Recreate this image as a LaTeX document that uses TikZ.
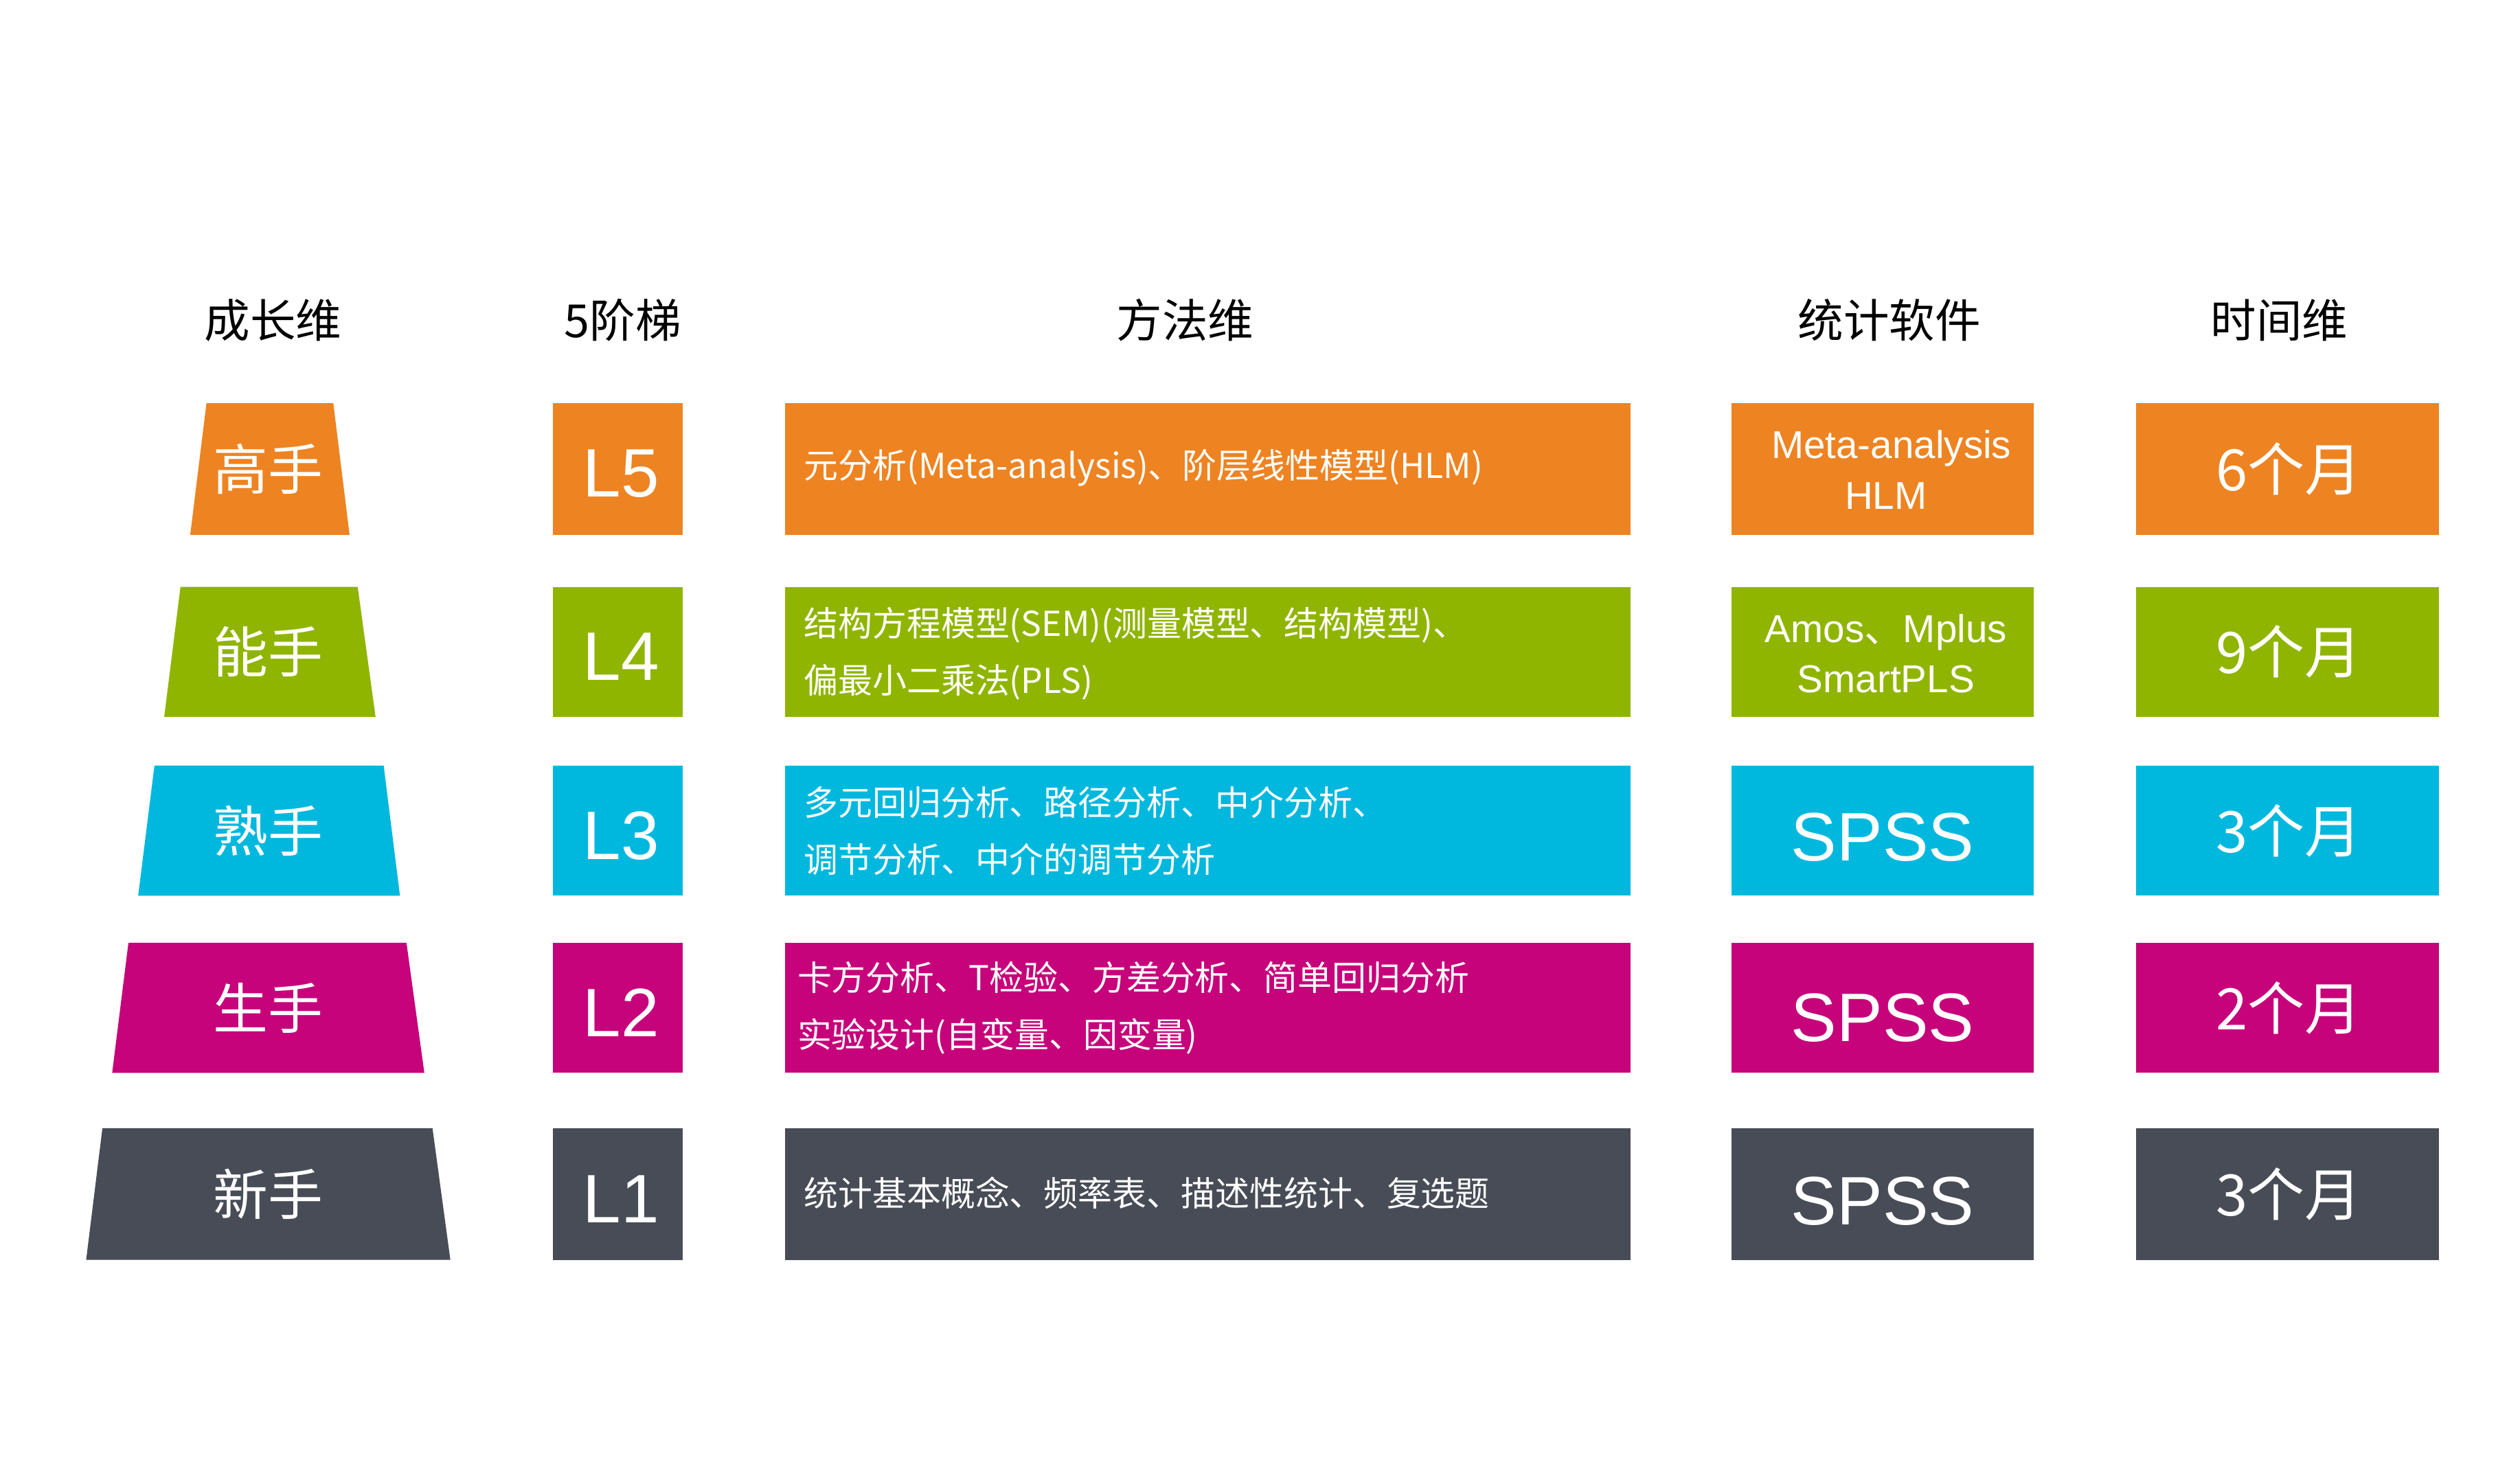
\documentclass[tikz,border=0pt]{standalone}
\usepackage{fontspec}
\newfontfamily\cjk{Noto Sans CJK SC}
\newfontfamily\lat{Liberation Sans}
\definecolor{cO}{HTML}{EE8322}
\definecolor{cG}{HTML}{8FB500}
\definecolor{cC}{HTML}{00B8DE}
\definecolor{cM}{HTML}{C6037A}
\definecolor{cD}{HTML}{474C56}
\begin{document}
\begin{tikzpicture}[x=0.05cm,y=-0.05cm,
  hd/.style={font=\cjk\fontsize{40}{44}\selectfont,text=black},
  lv/.style={font=\lat\fontsize{60}{60}\selectfont,text=white},
  tr/.style={font=\cjk\fontsize{48}{50}\selectfont,text=white},
  me/.style={font=\cjk\fontsize{30}{50}\selectfont,text=white,align=left,anchor=west},
  sw/.style={font=\lat\fontsize{34}{44}\selectfont,text=white,align=center},
  sb/.style={font=\lat\fontsize{60}{60}\selectfont,text=white},
  tm/.style={font=\cjk\fontsize{50}{50}\selectfont,text=white}]
\useasboundingbox (0,0) rectangle (1550,899);
\node[hd] (h1) at (168,197) {成长维};
\node[hd] (h2) at (383,197) {5阶梯};
\node[hd] (h3) at (729,197) {方法维};
\node[hd] (h4) at (1162,197) {统计软件};
\node[hd] (h5) at (1402,197) {时间维};
% rows
\foreach \c/\ya/\yb/\ta/\tb/\ba/\bb/\nm/\lv/\tt in {
 cO/248/329/127/205/117/215/高手/L5/6个月,
 cG/361/441/111/220/101/231/能手/L4/9个月,
 cC/471/551/95/236/85/246/熟手/L3/3个月,
 cM/580/660/79/250/69/261/生手/L2/2个月,
 cD/694/775/63/266/53/277/新手/L1/3个月}{
 \fill[\c] (\ta,\ya) -- (\tb,\ya) -- (\bb,\yb) -- (\ba,\yb) -- cycle;
 \node[tr] at (165,{(\ya+\yb)/2}) {\nm};
 \fill[\c] (340,\ya) rectangle (420,\yb);
 \node[lv] at (382,{(\ya+\yb)/2+3}) {\lv};
 \fill[\c] (483,\ya) rectangle (1003,\yb);
 \fill[\c] (1065,\ya) rectangle (1251,\yb);
 \fill[\c] (1314,\ya) rectangle (1500,\yb);
 \node[tm] at (1408,{(\ya+\yb)/2}) {\tt};
}
\node[me] (m5) at (492,288) {元分析(Meta-analysis)、阶层线性模型(HLM)};
\node[me] (m4) at (492,402) {结构方程模型(SEM)(测量模型、结构模型)、\\偏最小二乘法(PLS)};
\node[me] (m3) at (492,511) {多元回归分析、路径分析、中介分析、\\调节分析、中介的调节分析};
\node[me] (m2) at (488,620) {卡方分析、T检验、方差分析、简单回归分析\\实验设计(自变量、因变量)};
\node[me] (m1) at (492,734) {统计基本概念、频率表、描述性统计、复选题};
\node[sw] (s5) at (1160,289) {~Meta-analysis\\HLM};
\node[sw] (s4) at (1160,402) {Amos\cjk、\lat Mplus\\SmartPLS};
\node[sb] (s3) at (1158,515) {SPSS};
\node[sb] (s2) at (1158,626) {SPSS};
\node[sb] (s1) at (1158,739) {SPSS};
\end{tikzpicture}
\end{document}
